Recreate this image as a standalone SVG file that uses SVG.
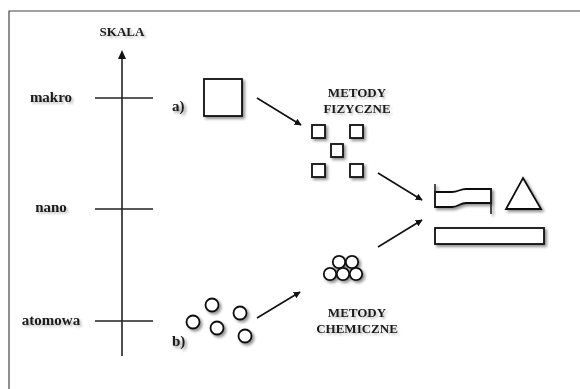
<svg xmlns="http://www.w3.org/2000/svg" width="580" height="389" viewBox="0 0 580 389">
  <defs>
    <filter id="shadow" x="-30%" y="-30%" width="170%" height="170%">
      <feGaussianBlur in="SourceAlpha" stdDeviation="1.6"/>
      <feOffset dx="2" dy="2" result="b"/>
      <feComponentTransfer><feFuncA type="linear" slope="0.45"/></feComponentTransfer>
      <feMerge><feMergeNode/><feMergeNode in="SourceGraphic"/></feMerge>
    </filter>
    <filter id="tshadow" x="-20%" y="-40%" width="140%" height="180%">
      <feGaussianBlur in="SourceAlpha" stdDeviation="1.2"/>
      <feOffset dx="1.5" dy="1.5" result="b"/>
      <feComponentTransfer><feFuncA type="linear" slope="0.25"/></feComponentTransfer>
      <feMerge><feMergeNode/><feMergeNode in="SourceGraphic"/></feMerge>
    </filter>
    <marker id="arrow" viewBox="0 0 10 10" refX="9" refY="5" markerWidth="7" markerHeight="7" markerUnits="userSpaceOnUse" orient="auto">
      <path d="M0,0 L10,5 L0,10 z" fill="#111"/>
    </marker>
  </defs>
  <style>
    text { font-family: "Liberation Serif", "Times New Roman", serif; font-weight: bold; font-size: 13px; fill: #1a1a1a; }
    .lo { font-size: 15px; }
    .c { text-anchor: middle; }
    .ln { stroke: #222; stroke-width: 1.6; fill: none; }
    .shape { stroke: #111; stroke-width: 1.8; fill: #fff; }
    .conn { stroke: #111; stroke-width: 1.6; fill: none; marker-end: url(#arrow); }
  </style>
  <rect width="580" height="389" fill="#fff"/>
  <!-- frame -->
  <path d="M9,389 V11 H580" stroke="#444" stroke-width="1.2" fill="none"/>

  <!-- scale axis -->
  <g id="scale-axis">
    <line class="ln" x1="122" y1="356" x2="122" y2="58"/>
    <path d="M122,50 L118,59 L126,59 z" fill="#111"/>
    <g filter="url(#tshadow)">
      <text class="c" x="122" y="36">SKALA</text>
      <text class="c lo" x="51" y="102">makro</text>
      <text class="c lo" x="51" y="212">nano</text>
      <text class="c lo" x="51" y="325">atomowa</text>
    </g>
    <line class="ln" x1="95" y1="98" x2="153" y2="98"/>
    <line class="ln" x1="95" y1="209" x2="153" y2="209"/>
    <line class="ln" x1="95" y1="321" x2="153" y2="321"/>
  </g>

  <!-- a) bulk material -->
  <g id="bulk" filter="url(#shadow)">
    <text class="lo" x="172" y="111">a)</text>
    <rect class="shape" x="204" y="79" width="38" height="37"/>
  </g>

  <!-- fragments from physical methods -->
  <g id="fragments" filter="url(#shadow)">
    <rect class="shape" x="312" y="125" width="13" height="13"/>
    <rect class="shape" x="350" y="125" width="13" height="13"/>
    <rect class="shape" x="331" y="144" width="12" height="13"/>
    <rect class="shape" x="312" y="164" width="13" height="13"/>
    <rect class="shape" x="350" y="164" width="13" height="13"/>
  </g>
  <g id="label-physical" filter="url(#tshadow)">
    <text class="c" x="357" y="97">METODY</text>
    <text class="c" x="357" y="113">FIZYCZNE</text>
  </g>

  <!-- b) atoms -->
  <g id="atoms" filter="url(#shadow)">
    <text class="lo" x="172" y="346">b)</text>
    <circle class="shape" cx="212" cy="305" r="6.5"/>
    <circle class="shape" cx="240" cy="313" r="6.5"/>
    <circle class="shape" cx="193" cy="322" r="6.5"/>
    <circle class="shape" cx="217" cy="328" r="6.5"/>
    <circle class="shape" cx="245" cy="336" r="6.5"/>
  </g>

  <!-- clusters from chemical methods -->
  <g id="cluster" filter="url(#shadow)">
    <circle class="shape" cx="339" cy="262" r="6.2"/>
    <circle class="shape" cx="352" cy="262" r="6.2"/>
    <circle class="shape" cx="330" cy="274" r="6.2"/>
    <circle class="shape" cx="343" cy="274" r="6.2"/>
    <circle class="shape" cx="356" cy="274" r="6.2"/>
  </g>
  <g id="label-chemical" filter="url(#tshadow)">
    <text class="c" x="357" y="317">METODY</text>
    <text class="c" x="357" y="333">CHEMICZNE</text>
  </g>

  <!-- nanostructures -->
  <g id="nanostructures" filter="url(#shadow)">
    <!-- wavy flag strip between two posts -->
    <path class="shape" d="M435,192 H452 C458,192 460,189 466,189 H491 V203 H466 C460,203 458,207 452,207 H435 Z"/>
    <line class="ln" x1="435" y1="184" x2="435" y2="208" stroke="#111"/>
    <line class="ln" x1="491" y1="189" x2="491" y2="214" stroke="#111"/>
    <path class="shape" d="M523,178 L541,209 L506,209 Z"/>
    <rect class="shape" x="435" y="228" width="109" height="16"/>
  </g>

  <!-- connectors -->
  <g id="connectors">
    <line class="conn" x1="257" y1="98" x2="301" y2="125"/>
    <line class="conn" x1="378" y1="173" x2="422" y2="200"/>
    <line class="conn" x1="257" y1="318" x2="300" y2="292"/>
    <line class="conn" x1="378" y1="247" x2="422" y2="220"/>
  </g>
</svg>
